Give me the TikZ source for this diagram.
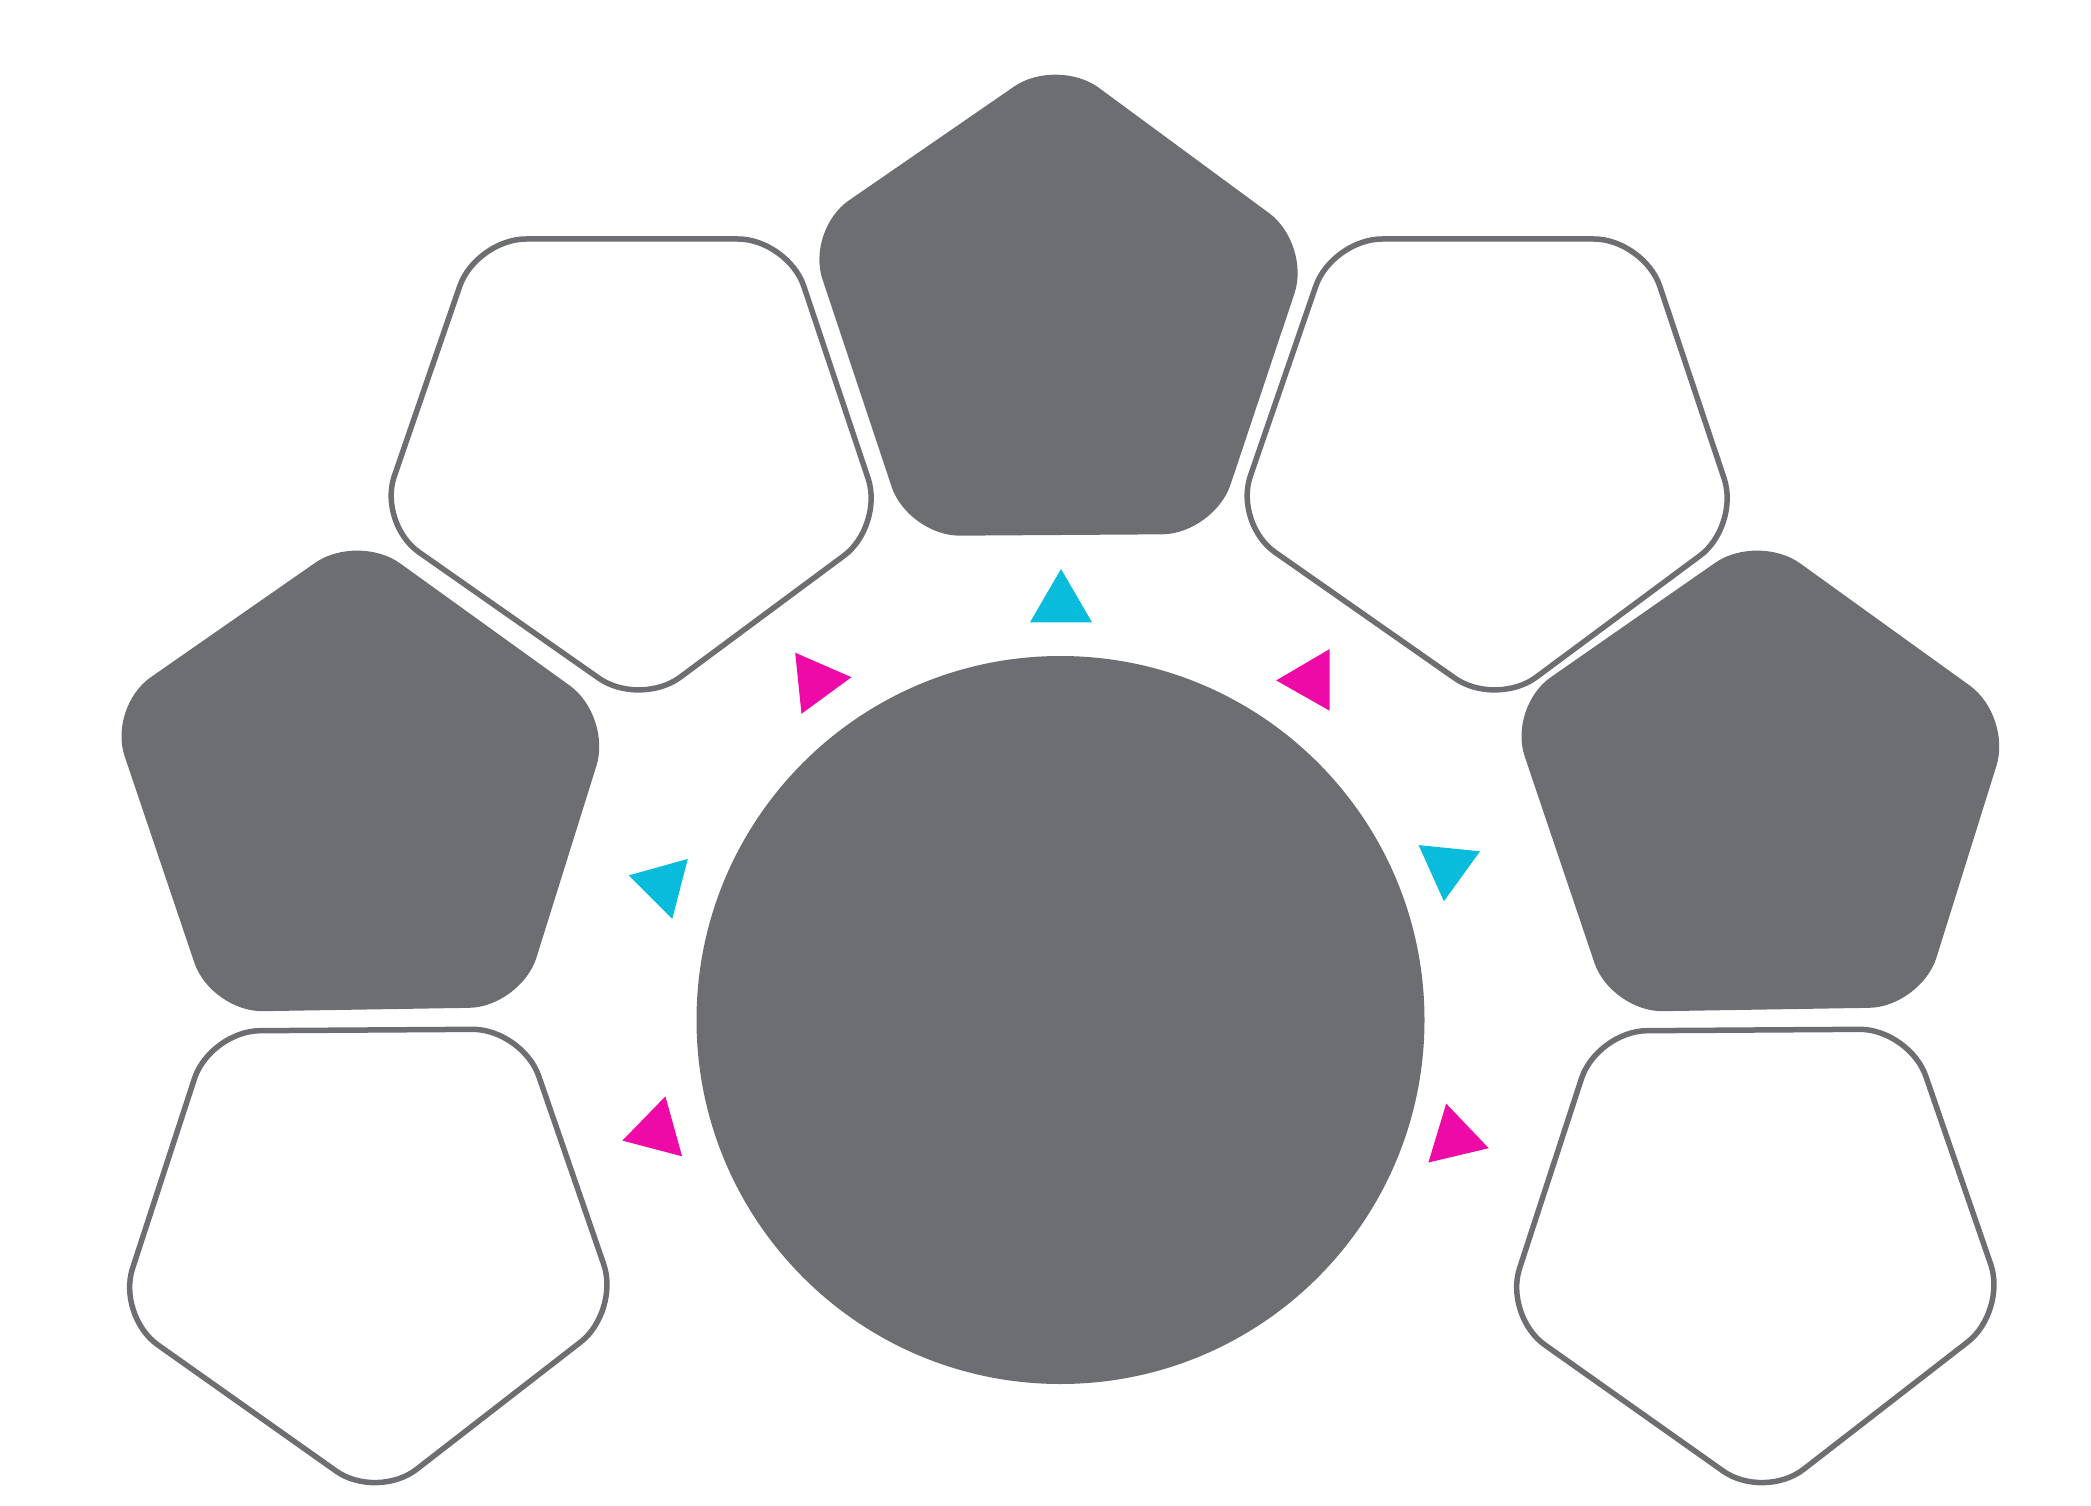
\documentclass[tikz,border=0pt]{standalone}
\definecolor{pgray}{HTML}{6D6E71}
\definecolor{pcyan}{HTML}{0ABCDC}
\definecolor{pmag}{HTML}{EE0AA6}
\begin{document}
\begin{tikzpicture}[x=1pt,y=-1pt,
  solidpent/.style={fill=pgray, rounded corners=52pt},
  openpent/.style={draw=pgray, line width=5.5pt, fill=white, rounded corners=50pt},
  cyantri/.style={fill=pcyan},
  magtri/.style={fill=pmag}]
\useasboundingbox (0,0) rectangle (2091,1506);
% solid pentagons
\path[solidpent] (1057,57) -- (1311,244) -- (1214,534) -- (908,536) -- (806,230) -- cycle;
\path[solidpent] (358,533) -- (612,716) -- (521,1007) -- (211,1012) -- (108,707) -- cycle;
\path[solidpent] (1758,533) -- (2012,716) -- (1921,1007) -- (1611,1012) -- (1508,707) -- cycle;
% outline pentagons
\path[openpent] (476,239) -- (788,239) -- (884,526) -- (640,707) -- (378,523.5) -- cycle;
\path[openpent] (1332,239) -- (1644,239) -- (1740,526) -- (1496,707) -- (1234,523.5) -- cycle;
\path[openpent] (210,1031) -- (522.5,1029) -- (620,1311.5) -- (377,1500) -- (117,1316) -- cycle;
\path[openpent] (1597,1031) -- (1909.5,1029) -- (2007,1311.5) -- (1764,1500) -- (1504,1316) -- cycle;
% central circle
\fill[pgray] (1060.5,1020) circle[radius=364pt];
% triangles
\fill[cyantri] (1061,569) -- (1030,622.3) -- (1092,622.3) -- cycle;
\fill[magtri] (795.2,652.7) -- (851.4,677.2) -- (801.5,713.8) -- cycle;
\fill[magtri] (1329.6,649.1) -- (1276.2,680.4) -- (1329.6,710.7) -- cycle;
\fill[cyantri] (687.8,858.9) -- (628.7,875.4) -- (672.3,918.8) -- cycle;
\fill[cyantri] (1418.6,845.1) -- (1480,851.3) -- (1443.9,901.3) -- cycle;
\fill[magtri] (665.4,1096.4) -- (622.4,1140.6) -- (682.1,1156.3) -- cycle;
\fill[magtri] (1446.2,1103.6) -- (1488.7,1148.2) -- (1428.4,1162.5) -- cycle;
\end{tikzpicture}
\end{document}
